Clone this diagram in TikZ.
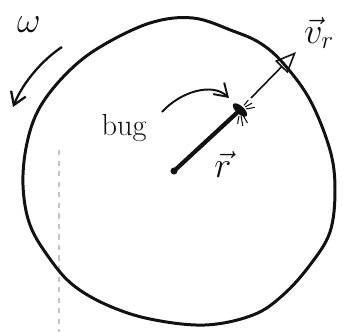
\documentclass[tikz,border=0pt]{standalone}
\usepackage{amsmath}
\usetikzlibrary{arrows.meta}
\definecolor{sketchink}{HTML}{111111}
\definecolor{sketchfaint}{HTML}{C4C4C4}

\begin{document}
\begin{tikzpicture}[x=0.02cm, y=-0.02cm, >={Straight Barb[length=7pt,width=9pt]},
                    every node/.style={sketchink, font=\LARGE}]

  \useasboundingbox (0,0) rectangle (343,332);

  %% schwacher Strich am linken Rand
  \draw[sketchfaint, line width=0.6pt, dashed] (59,150) -- (59,332);

  %% die Scheibe
  \draw[sketchink, line width=1.7pt] plot[smooth cycle, tension=0.6]
    coordinates {(193,18) (233,31) (260,43) (283,63) (310,100) (330,150)
                 (335,190) (330,232) (310,265) (283,295) (253,315) (205,325)
                 (150,319) (107,305) (73,285) (50,259) (30,225) (23,185)
                 (27,143) (40,107) (67,73) (100,47) (150,23)};

  %% Drehsinn
  \coordinate (omegastart) at (62,47);
  \coordinate (omegaend)   at (13,107);
  \draw[sketchink, line width=1.3pt, ->] (omegastart)
    .. controls (45,58) and (24,80) .. (omegaend);
  \node[font=\huge, inner sep=1pt] (omega) at (29,25) {$\omega$};

  %% Mittelpunkt und Ortsvektor
  \coordinate (centre) at (174,171);
  \coordinate (bug) at (240,110);
  \fill[sketchink] (centre) circle (3.5);
  \draw[sketchink, line width=2.4pt, line cap=round] (centre) -- (bug);
  \node[font=\huge] (rlabel) at (223,165) {$\vec r$};

  %% der Kaefer
  \fill[sketchink, rotate around={-42:(bug)}] (bug) ellipse (9 and 4);
  \foreach \a/\l in {60/9, 80/10, 100/8, -10/9, -30/8, -50/7}
    \draw[sketchink, line width=0.6pt] (bug) ++(\a:6) -- ++(\a:\l);

  %% Geschwindigkeit
  \coordinate (bughead) at (251,98);
  \coordinate (vtip) at (296,52);
  \draw[sketchink, line width=0.9pt, -{Triangle[open, length=12pt, width=10pt]}]
    (bughead) -- (vtip);
  \node[font=\huge] (vrlabel) at (319,33) {$\vec v_r$};

  %% Beschriftung
  \node (buglabel) at (124,128) {bug};
  \coordinate (bugarrowstart) at (162,112);
  \coordinate (bugarrowend) at (229,98);
  \draw[sketchink, line width=1.1pt, ->] (bugarrowstart)
    .. controls (180,92) and (212,82) .. (bugarrowend);

\end{tikzpicture}
\end{document}
